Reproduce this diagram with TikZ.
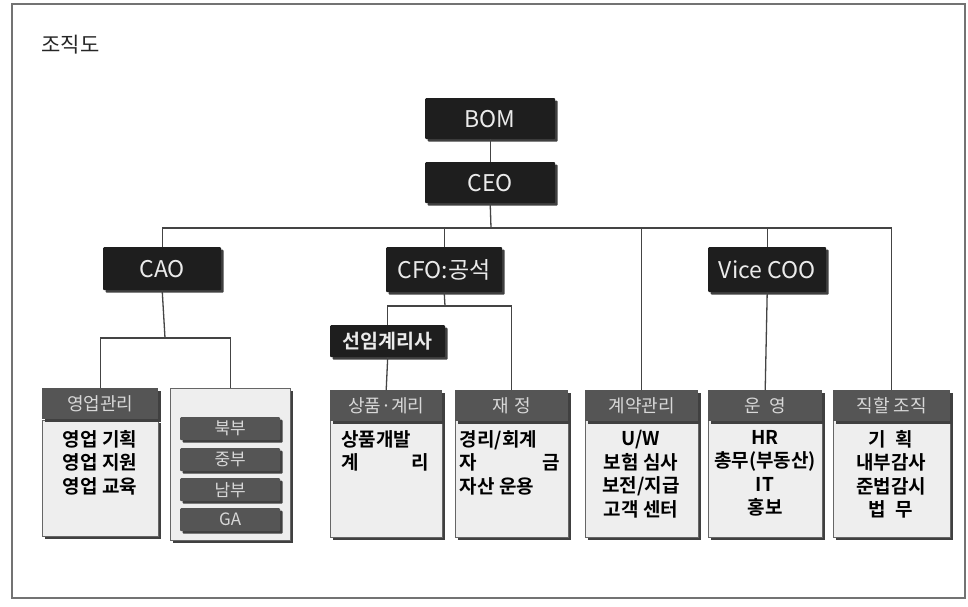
\documentclass[tikz,border=0pt]{standalone}
\usepackage{fontspec}
\setmainfont{Noto Sans CJK KR}[BoldFont={Noto Sans CJK KR Bold}]
\usetikzlibrary{shadows}
\definecolor{topfill}{HTML}{1E1E1E}
\definecolor{headfill}{HTML}{555555}
\definecolor{headtext}{HTML}{D8D8D8}
\definecolor{bodyfill}{HTML}{EEEEEE}
\definecolor{linec}{HTML}{444444}
\tikzset{
  shd/.style={drop shadow={shadow xshift=2.5pt,shadow yshift=-2.5pt,fill=black!75,opacity=1}},
  topbox/.style={shd,fill=topfill,text=white!92!black,font=\fontsize{23}{26}\selectfont,inner sep=0pt,anchor=north west,rounded corners=1pt},
  headbox/.style={shd,fill=headfill,text=headtext,font=\fontsize{18}{21}\selectfont,inner sep=0pt,anchor=north west,minimum height=31pt},
  bodybox/.style={shd,fill=bodyfill,draw=black!60,line width=0.6pt,inner sep=0pt,anchor=north west},
  subbox/.style={shd,fill=headfill,text=headtext,font=\fontsize{17}{19}\selectfont,inner sep=0pt,anchor=north west,minimum width=100pt,minimum height=23pt,rounded corners=1pt},
  bodytext/.style={font=\bfseries\fontsize{19}{23.5}\selectfont,align=center,anchor=north,inner sep=0pt},
  conn/.style={draw=linec,line width=1.3pt}
}
\begin{document}
\begin{tikzpicture}[x=1pt,y=-1pt]
\useasboundingbox (0,0) rectangle (968,606);
\fill[white] (0,0) rectangle (968,606);
\draw[black!55,line width=1.4pt] (12,4) rectangle (965,598);
\node[anchor=west,font=\fontsize{21}{24}\selectfont,text=black!85] (title) at (38,45) {조직도};

% top boxes
\node[topbox,minimum width=130pt,minimum height=41pt] (bom) at (425,98) {BOM};
\node[topbox,minimum width=130pt,minimum height=41pt] (ceo) at (425,162) {CEO};
\node[topbox,minimum width=118pt,minimum height=43pt] (cao) at (103,247) {CAO};
\node[topbox,minimum width=116pt,minimum height=45pt] (cfo) at (386,247) {CFO:공석};
\node[topbox,minimum width=118pt,minimum height=45pt] (coo) at (708,247) {Vice COO};
\node[topbox,minimum width=115pt,minimum height=32pt,font=\bfseries\fontsize{19.5}{22}\selectfont] (act) at (330,325) {선임계리사};

% bottom body boxes
\node[bodybox,minimum width=116pt,minimum height=116pt] (b1) at (42,420) {};
\node[bodybox,minimum width=120pt,minimum height=152pt] (r) at (170,388) {};
\node[bodybox,minimum width=112pt,minimum height=117pt] (b2) at (330,420) {};
\node[bodybox,minimum width=113pt,minimum height=117pt] (b3) at (455,420) {};
\node[bodybox,minimum width=113pt,minimum height=117pt] (b4) at (585,420) {};
\node[bodybox,minimum width=114pt,minimum height=117pt] (b5) at (708,420) {};
\node[bodybox,minimum width=117pt,minimum height=117pt] (b6) at (833,420) {};

% headers
\node[headbox,minimum width=116pt] (h1) at (42,388) {영업관리};
\node[headbox,minimum width=112pt] (h2) at (330,390) {상품·계리};
\node[headbox,minimum width=113pt] (h3) at (455,390) {재\,\,정};
\node[headbox,minimum width=113pt] (h4) at (585,390) {계약관리};
\node[headbox,minimum width=114pt] (h5) at (708,390) {운\,\,\,영};
\node[headbox,minimum width=117pt] (h6) at (833,390) {직할 조직};

% regional sub boxes
\node[subbox] (s1) at (180,417) {북부};
\node[subbox] (s2) at (180,448) {중부};
\node[subbox] (s3) at (180,478) {남부};
\node[subbox] (s4) at (180,508) {GA};

% body texts
\node[bodytext] (t1) at (100,430) {영업 기획\\영업 지원\\영업 교육};
\node[bodytext,align=left] (t2) at (385,430) {상품개발\\계\hspace{2.75em}리};
\node[bodytext,align=left] (t3) at (510,430) {경리/회계\\자\hspace{3.45em}금\\자산 운용};
\node[bodytext] (t4) at (641,430) {U/W\\보험 심사\\보전/지급\\고객 센터};
\node[bodytext] (t5) at (765,430) {HR\\총무(부동산)\\IT\\홍보};
\node[bodytext] (t6) at (891,430) {기\,\,\,획\\내부감사\\준법감시\\법\,\,\,무};

% connectors
\coordinate (bus) at (491,228);
\coordinate (caobus) at (165,338);
\coordinate (cfobus) at (445,306);
\draw[conn] (bom.south) -- (ceo.north);
\draw[conn] (ceo.south) -- (bus);
\draw[conn] (cao.north) |- (bus) -| (h6.north);
\draw[conn] (cfo.north) |- (bus);
\draw[conn] (h4.north) |- (bus);
\draw[conn] (coo.north) -- (coo.north |- bus);
\draw[conn] (coo.south) -- (h5.north);
\draw[conn] (cao.south) -- (caobus);
\draw[conn] (h1.north) |- (caobus) -| (r.north);
\draw[conn] (cfo.south) -- (cfobus);
\draw[conn] (act.north) |- (cfobus) -| (h3.north);
\draw[conn] (act.south) -- (h2.north);
\end{tikzpicture}
\end{document}
